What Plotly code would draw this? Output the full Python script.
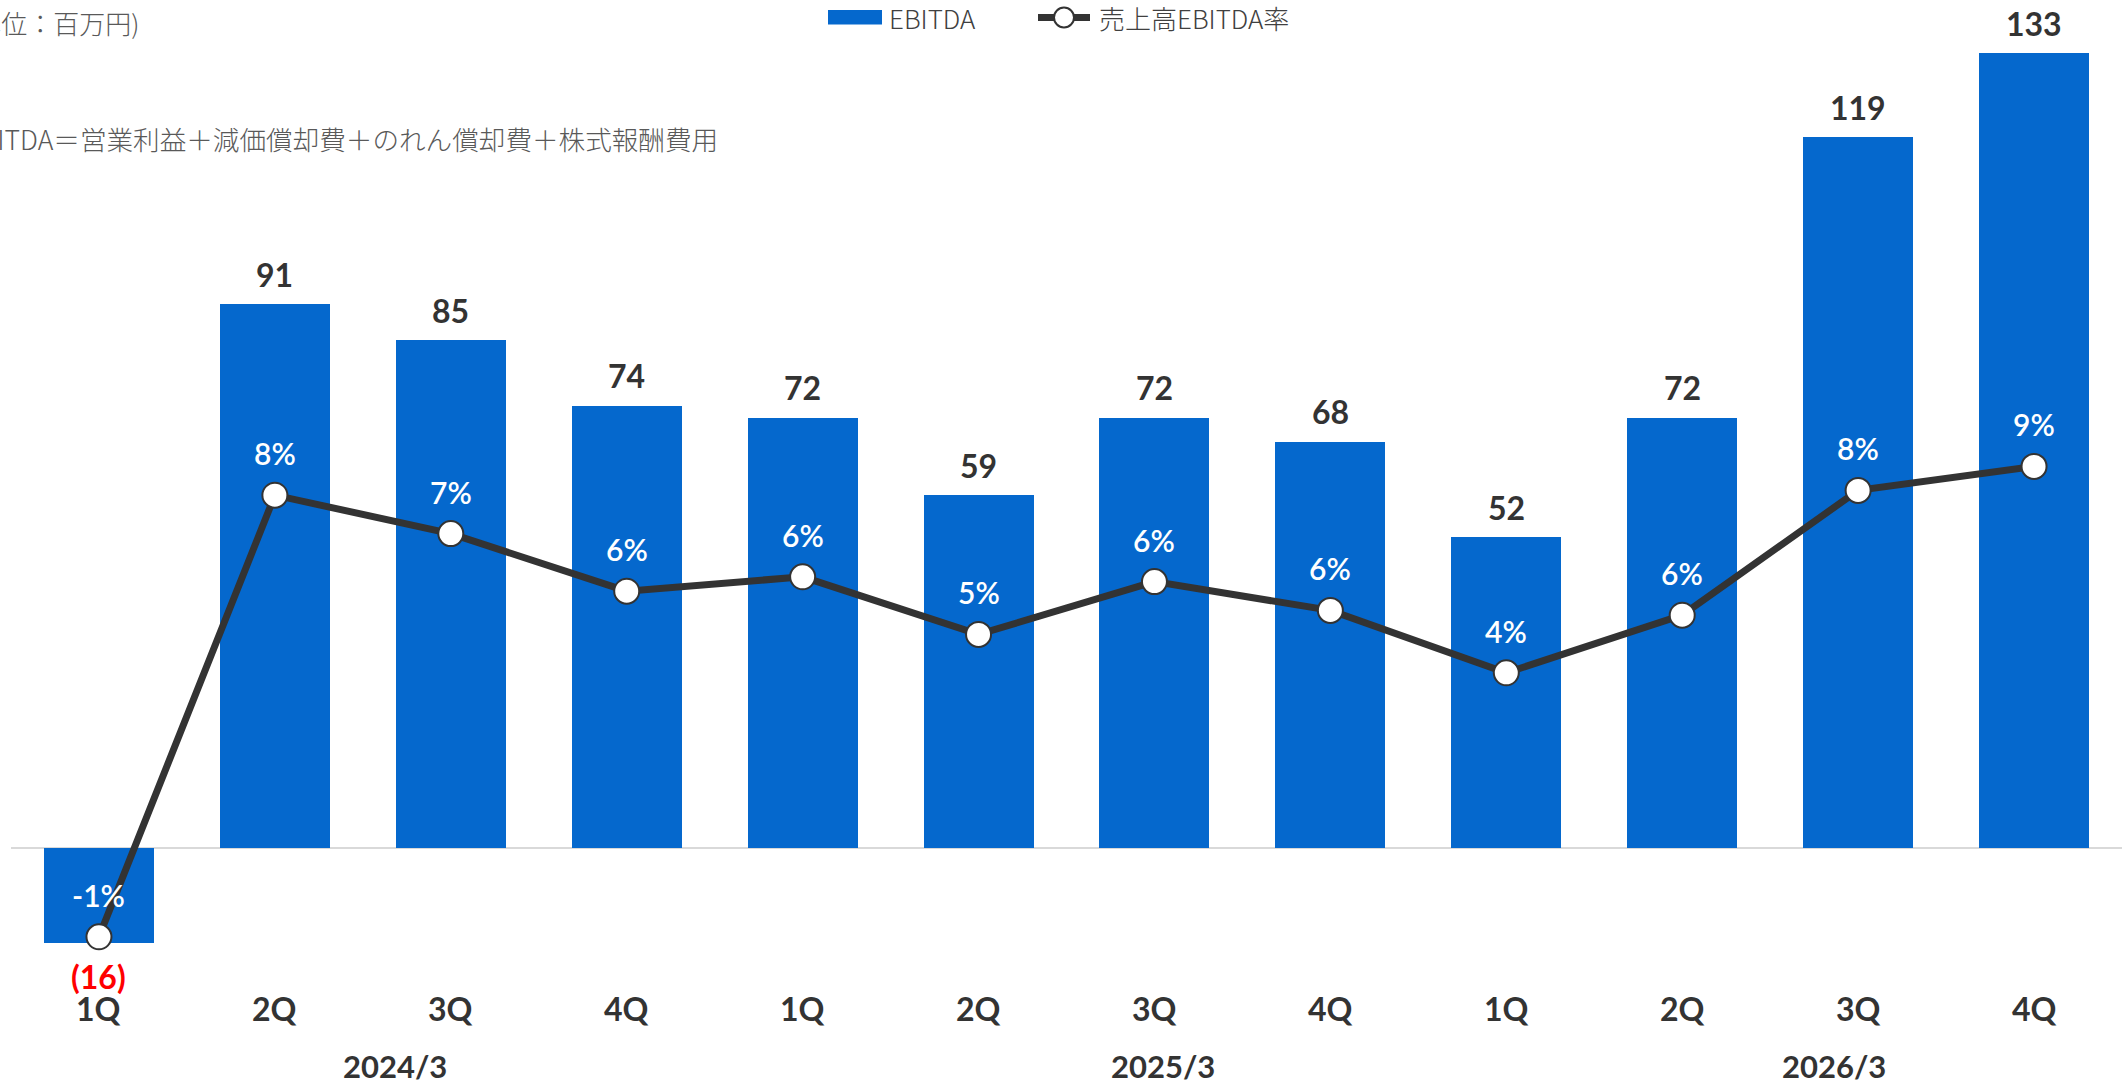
import plotly.graph_objects as go

# ---------------- data ----------------
quarters = ["1Q", "2Q", "3Q", "4Q", "1Q", "2Q", "3Q", "4Q", "1Q", "2Q", "3Q", "4Q"]
fiscal_years = ["2024/3", "2025/3", "2026/3"]
ebitda = [-16, 91, 85, 74, 72, 59, 72, 68, 52, 72, 119, 133]
ebitda_labels = ["(16)", "91", "85", "74", "72", "59", "72", "68", "52", "72", "119", "133"]
ebitda_margin = [-1.1, 8.1, 7.3, 6.1, 6.4, 5.2, 6.3, 5.7, 4.4, 5.6, 8.2, 8.7]
margin_labels = ["-1%", "8%", "7%", "6%", "6%", "5%", "6%", "6%", "4%", "6%", "8%", "9%"]
unit_note = "(単位：百万円)"
def_note = "EBITDA＝営業利益＋減価償却費＋のれん償却費＋株式報酬費用"
legend_names = ["EBITDA", "売上高EBITDA率"]

# ---------------- layout geometry ----------------
W, H = 2122, 1084
L, R, T, B = 11, 0, 0, 124
PW, PH = W - L - R, H - T - B

zero_px, ppu = 847.5, 5.97        # primary axis: pixel of zero, pixels per unit
zero2_px, ppu2 = 884.0, 48.0      # secondary axis
y_range = [-(PH - zero_px) / ppu, zero_px / ppu]
y2_range = [-(PH - zero2_px) / ppu2, zero2_px / ppu2]

def px_x(px):
    return (px - L) / PW

def px_y(py):
    return (T + PH - py) / PH

BLUE = "#0568CD"
DARK = "#333333"
LATO = "Lato"
JP = "Noto Sans CJK JP"

x = list(range(len(quarters)))

fig = go.Figure()
fig.add_trace(go.Bar(
    x=x, y=ebitda, name=legend_names[0], marker=dict(color=BLUE, line=dict(width=0)),
    width=0.625, yaxis="y", showlegend=False,
))
fig.add_trace(go.Scatter(
    x=x, y=ebitda_margin, name=legend_names[1], yaxis="y2", mode="lines+markers",
    line=dict(color=DARK, width=7),
    marker=dict(size=25, color="white", line=dict(color=DARK, width=2)),
    cliponaxis=False, showlegend=False,
))

annotations = []
# bar value labels
for i, (v, t) in enumerate(zip(ebitda, ebitda_labels)):
    neg = v < 0
    annotations.append(dict(
        x=i, y=v, xref="x", yref="y", text=t, showarrow=False,
        yanchor="middle", yshift=-33 if neg else 30,
        font=dict(family=LATO, size=32, weight="bold", color="#FF0000" if neg else DARK),
    ))
# ratio labels
for i, (v, t) in enumerate(zip(ebitda_margin, margin_labels)):
    annotations.append(dict(
        x=i, y=v, xref="x", yref="y2", text=t, showarrow=False,
        yanchor="middle", yshift=42,
        font=dict(family=LATO, size=30, weight=600, color="white"),
    ))
# quarter labels
for i, q in enumerate(quarters):
    annotations.append(dict(
        x=i, y=0, xref="x", yref="paper", text=q, showarrow=False,
        yanchor="middle", yshift=-(1008 - (T + PH)),
        font=dict(family=LATO, size=32, weight="bold", color=DARK),
    ))
# fiscal year labels
year_pos = [1.68, 6.05, 9.86]
for xp, fy in zip(year_pos, fiscal_years):
    annotations.append(dict(
        x=xp, y=0, xref="x", yref="paper", text=fy, showarrow=False,
        yanchor="middle", yshift=-(1066 - (T + PH)),
        font=dict(family=LATO, size=31, weight="bold", color=DARK),
    ))
# notes (top-left)
annotations.append(dict(
    x=px_x(141), y=px_y(22), xref="paper", yref="paper", text=unit_note, showarrow=False,
    xanchor="right", yanchor="middle", font=dict(family=JP, size=26, weight=300, color="#595959"),
))
annotations.append(dict(
    x=px_x(720), y=px_y(138), xref="paper", yref="paper", text=def_note, showarrow=False,
    xanchor="right", yanchor="middle", font=dict(family=JP, size=26.6, weight=300, color="#595959"),
))
# custom legend texts
annotations.append(dict(
    x=px_x(887), y=px_y(17.5), xref="paper", yref="paper", text=legend_names[0], showarrow=False,
    xanchor="left", yanchor="middle", font=dict(family=JP, size=26, weight=300, color="#404040"),
))
annotations.append(dict(
    x=px_x(1097), y=px_y(17.5), xref="paper", yref="paper", text=legend_names[1], showarrow=False,
    xanchor="left", yanchor="middle", font=dict(family=JP, size=26, weight=300, color="#404040"),
))

shapes = [
    dict(type="rect", xref="paper", yref="paper", x0=px_x(828), x1=px_x(882),
         y0=px_y(24.5), y1=px_y(10), fillcolor=BLUE, line=dict(width=0)),
    dict(type="line", xref="paper", yref="paper", x0=px_x(1038), x1=px_x(1090),
         y0=px_y(17.5), y1=px_y(17.5), line=dict(color=DARK, width=7)),
    dict(type="circle", xref="paper", yref="paper", x0=px_x(1054), x1=px_x(1074),
         y0=px_y(27.5), y1=px_y(7.5), fillcolor="white", line=dict(color=DARK, width=2)),
]

fig.update_layout(
    width=W, height=H,
    margin=dict(l=L, r=R, t=T, b=B, pad=0),
    paper_bgcolor="white", plot_bgcolor="white",
    bargap=0,
    xaxis=dict(range=[-0.5, len(quarters) - 0.5], showgrid=False, showticklabels=False,
               zeroline=False, showline=False, ticks=""),
    yaxis=dict(range=y_range, showgrid=False, showticklabels=False, ticks="",
               zeroline=True, zerolinecolor="#D9D9D9", zerolinewidth=2, showline=False),
    yaxis2=dict(range=y2_range, overlaying="y", side="right", showgrid=False,
                showticklabels=False, ticks="", zeroline=False, showline=False),
    annotations=annotations,
    shapes=shapes,
    showlegend=False,
)

fig.write_html("out.html")
